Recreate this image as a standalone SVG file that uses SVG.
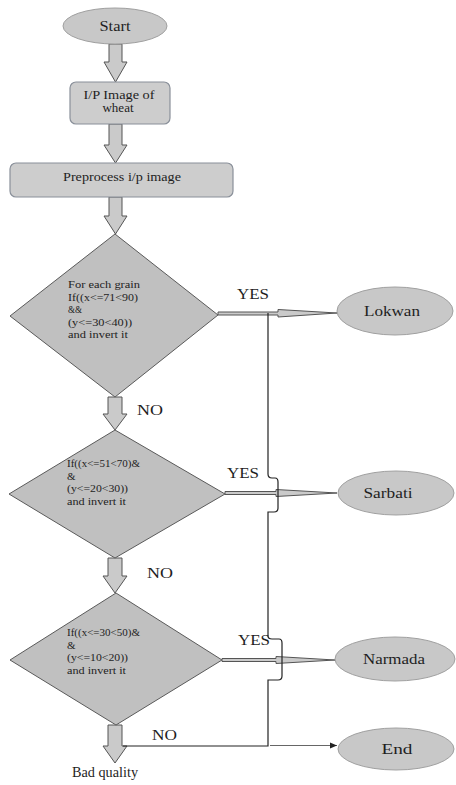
<svg xmlns="http://www.w3.org/2000/svg" width="456" height="785" viewBox="0 0 456 785" font-family="'Liberation Serif','DejaVu Serif',serif">
<defs>
<marker id="ah" markerWidth="8" markerHeight="8" refX="7" refY="4" orient="auto" markerUnits="userSpaceOnUse">
<path d="M0,1 L7,4 L0,7 Z" fill="#222"/>
</marker>
<style>
text{font-family:"Liberation Serif","DejaVu Serif",serif;fill:#1e1e1e}
.term{fill:#c8c8c8;stroke:#a0a0a0;stroke-width:1}
.box{fill:#cdcdcd;stroke:#8a909a;stroke-width:1.2}
.dec{fill:#c0c0c0;stroke:#5a5a5a;stroke-width:1}
.blk{fill:#cacaca;stroke:#555;stroke-width:1}
.ln{fill:none;stroke:#222;stroke-width:1.2}
.c{text-anchor:middle}
.s{font-size:12px}
.d{font-size:11px}
.m{font-size:14px}
</style>
</defs>
<rect width="456" height="785" fill="#ffffff"/>

<g id="connectors">
<path class="blk" d="M109,44 L122,44 L122,62 L127,62 L115.5,82 L104,62 L109,62 Z"/>
<path class="blk" d="M109,124 L122,124 L122,145 L127,145 L115.5,163 L104,145 L109,145 Z"/>
<path class="blk" d="M109,197 L122,197 L122,216 L127,216 L115.5,234 L104,216 L109,216 Z"/>
<path class="blk" d="M108,397 L122,397 L122,414 L127,414 L115,430 L103,414 L108,414 Z"/>
<path class="blk" d="M108,558 L122,558 L122,576 L127,576 L115,593 L103,576 L108,576 Z"/>
<path class="blk" d="M108,725 L122,725 L122,746 L127,746 L115,763 L103,746 L108,746 Z"/>
<path class="blk" d="M218,312 L278,312 L278,309.5 L337,313 L278,317 L278,315 L218,315 Z"/>
<path class="blk" d="M225,491.5 L276,491.5 L276,489.5 L337,493 L276,496.5 L276,494.5 L225,494.5 Z"/>
<path class="blk" d="M222,658.5 L276,658.5 L276,656.5 L335,660 L276,663.5 L276,661.5 L222,661.5 Z"/>
<path class="ln" d="M268,313 L268,474 Q268,478 272,478 L275,478 Q278,478 278,482 L278,508 Q278,512 274,512 L268,512 L268,636 Q268,639 272,639 L279,639 Q282,639 282,643 L282,676 Q282,680 278,680 L268,680 L268,746 L123,746"/>
<line x1="270" y1="745.5" x2="337" y2="745.5" stroke="#666" stroke-width="1.2" marker-end="url(#ah)"/>
<text class="m" x="237" y="299" textLength="32" lengthAdjust="spacingAndGlyphs">YES</text>
<text class="m" x="227" y="478" textLength="32" lengthAdjust="spacingAndGlyphs">YES</text>
<text class="m" x="238" y="645" textLength="32" lengthAdjust="spacingAndGlyphs">YES</text>
<text class="m" x="137" y="415" textLength="26" lengthAdjust="spacingAndGlyphs">NO</text>
<text class="m" x="147" y="578" textLength="26" lengthAdjust="spacingAndGlyphs">NO</text>
<text class="m" x="152" y="740" textLength="25" lengthAdjust="spacingAndGlyphs">NO</text>
</g>

<g id="start">
<ellipse class="term" cx="115" cy="26" rx="52" ry="18"/>
<text class="m c" x="115" y="31" textLength="31" lengthAdjust="spacingAndGlyphs">Start</text>
</g>

<g id="input">
<rect class="box" x="70" y="82" width="100" height="42" rx="6"/>
<text class="s c" x="119" y="99" textLength="71" lengthAdjust="spacingAndGlyphs">I/P Image of</text>
<text class="s c" x="118" y="112" textLength="31" lengthAdjust="spacingAndGlyphs">wheat</text>
</g>

<g id="preprocess">
<rect class="box" x="10" y="163" width="223" height="34" rx="6"/>
<text class="s c" x="122" y="181" textLength="118" lengthAdjust="spacingAndGlyphs">Preprocess i/p image</text>
</g>

<g id="decision1">
<path class="dec" d="M115,234 L218,315 L115,397 L10,316 Z"/>
<text class="d" x="68" y="288" textLength="72" lengthAdjust="spacingAndGlyphs">For each grain</text>
<text class="d" x="68" y="300.5" textLength="70" lengthAdjust="spacingAndGlyphs">If((x&lt;=71&lt;90)</text>
<text class="d" x="68" y="313" textLength="14" lengthAdjust="spacingAndGlyphs">&amp;&amp;</text>
<text class="d" x="68" y="325.5" textLength="64" lengthAdjust="spacingAndGlyphs">(y&lt;=30&lt;40))</text>
<text class="d" x="68" y="338" textLength="60" lengthAdjust="spacingAndGlyphs">and invert it</text>
</g>

<g id="decision2">
<path class="dec" d="M115,430 L225,494 L115,558 L9,494 Z"/>
<text class="d" x="67" y="467" textLength="73" lengthAdjust="spacingAndGlyphs">If((x&lt;=51&lt;70)&amp;</text>
<text class="d" x="67" y="479.5">&amp;</text>
<text class="d" x="67" y="492" textLength="61" lengthAdjust="spacingAndGlyphs">(y&lt;=20&lt;30))</text>
<text class="d" x="67" y="504.5" textLength="59" lengthAdjust="spacingAndGlyphs">and invert it</text>
</g>

<g id="decision3">
<path class="dec" d="M116,593 L222,660 L116,725 L10,660 Z"/>
<text class="d" x="67" y="636" textLength="73" lengthAdjust="spacingAndGlyphs">If((x&lt;=30&lt;50)&amp;</text>
<text class="d" x="67" y="648.5">&amp;</text>
<text class="d" x="67" y="661" textLength="61" lengthAdjust="spacingAndGlyphs">(y&lt;=10&lt;20))</text>
<text class="d" x="67" y="673.5" textLength="59" lengthAdjust="spacingAndGlyphs">and invert it</text>
</g>

<g id="lokwan">
<ellipse class="term" cx="395" cy="311" rx="58" ry="24"/>
<text class="m c" x="392" y="316" textLength="56" lengthAdjust="spacingAndGlyphs">Lokwan</text>
</g>

<g id="sarbati">
<ellipse class="term" cx="396" cy="493" rx="58" ry="22"/>
<text class="m c" x="388" y="498" textLength="49" lengthAdjust="spacingAndGlyphs">Sarbati</text>
</g>

<g id="narmada">
<ellipse class="term" cx="395" cy="659" rx="60" ry="22"/>
<text class="m c" x="394" y="664" textLength="62" lengthAdjust="spacingAndGlyphs">Narmada</text>
</g>

<g id="end">
<ellipse class="term" cx="396" cy="749" rx="58" ry="21"/>
<text class="m c" x="397" y="754" textLength="31" lengthAdjust="spacingAndGlyphs">End</text>
</g>

<g id="bad">
<text class="m c" x="105" y="777" textLength="66" lengthAdjust="spacingAndGlyphs">Bad quality</text>
</g>
</svg>
